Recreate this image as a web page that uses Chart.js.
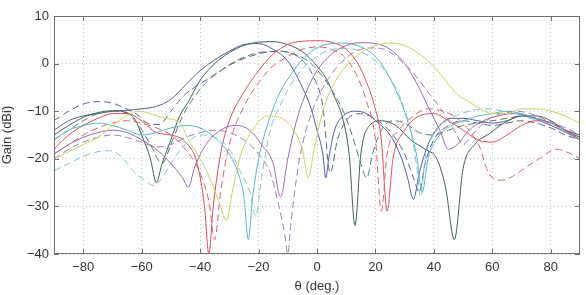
<!DOCTYPE html>
<html>
<head>
<meta charset="utf-8">
<script src="https://cdn.jsdelivr.net/npm/chart.js@4/dist/chart.umd.min.js"></script>
<style>
html,body{margin:0;padding:0;background:#fff;}
#wrap{width:586px;height:295px;}
</style>
</head>
<body>
<div id="wrap"><canvas id="c" width="586" height="295"></canvas></div>
<script>
// Tick labels
const xTicks = [-80,-60,-40,-20,0,20,40,60,80];
const yTicks = [-40,-30,-20,-10,0,10];

// Series: angle (deg) and gain (dBi)
const navyAng  = [-90,-85,-80,-75,-70,-65,-60,-55,-50,-45,-40,-35,-30,-25,-20,-15,-10,-5,-2,0,2,3,4,6,9,13,17,21,25,29,31,33,35,38,42,46,50,55,60,65,70,75,80,85,90];
const navyGain = [-14,-12,-11,-10.5,-10,-9.8,-9.5,-9,-7.5,-4.5,-1.5,0.8,2.6,4.0,4.2,3.0,0.5,-5,-9.5,-14,-19,-24,-20,-14,-11,-10,-10.5,-12.5,-15,-20,-24,-28.5,-23,-17,-13,-11.5,-11.5,-12,-12.5,-12,-11,-11.5,-12.5,-14,-15];

const greenAng  = [-90,-85,-80,-75,-70,-65,-62,-60,-57,-55,-53,-50,-47,-44,-40,-35,-30,-25,-20,-15,-10,-5,0,3,6,9,11,13,15,18,22,27,32,37,41,44,47,50,54,59,64,70,75,80,85,90];
const greenGain = [-15,-13,-11.3,-10.3,-9.9,-10.3,-12,-15,-20,-25,-21,-16,-11,-8,-3.5,0,2.3,3.8,4.5,4.6,4,2.5,-0.5,-3,-7,-12,-19,-34,-19,-13,-12,-13,-16,-18,-20,-26,-37,-22,-17,-14.7,-12.5,-11,-11,-12,-14,-15.5];

const redAng  = [-90,-85,-80,-75,-70,-65,-60,-55,-50,-45,-41,-38.5,-37,-35.5,-33,-30,-25,-20,-15,-10,-5,0,5,10,14,17,19.5,22,24,26,30,35,40,45,50,55,60,65,70,75,80,85,90];
const redGain = [-18,-15,-13,-11.5,-10.5,-10.5,-12,-14.5,-15,-16.5,-21,-30,-40,-30,-19,-12,-6,-1.5,2,4,4.7,4.8,4.5,3,0,-4,-8.5,-16,-31,-20,-14,-11,-10.5,-12,-14,-16,-16.5,-15,-13,-12,-12.5,-14,-16];

const redDAng  = [-90,-85,-80,-75,-70,-65,-60,-55,-50,-45,-40,-37,-35,-33,-30,-25,-20,-15,-10,-5,0,5,10,14,17,20,22,24,28,33,38,43,48,52,56,58,60,63,66,71,76,82,87,90];
const redDGain = [-19,-17,-15,-13.5,-12.5,-12,-12.5,-13.5,-15,-18,-23,-29,-37,-27,-17,-9,-4,-0.5,1.5,3,3.5,3,1,-3,-8,-16,-31,-19,-14,-11,-9.5,-10,-11.5,-14,-18,-22,-24,-24.5,-24,-22,-20,-18,-19,-20];

const cyanAng  = [-90,-85,-80,-75,-70,-65,-60,-55,-50,-45,-40,-35,-30,-27,-25,-23.5,-22,-20,-17,-13,-8,-4,0,5,10,15,20,24,28,31,34,36,38,42,46,50,55,60,65,70,75,80,85,90];
const cyanGain = [-16,-14,-13,-12.5,-13,-14,-15,-14.5,-13.5,-13,-13.5,-15.5,-19,-23,-28,-37,-28,-20,-13,-6.5,-1.5,1.5,3.3,4.2,4.3,3.5,1.5,-2,-7,-12,-19,-27,-20,-15,-13,-12,-11,-10.5,-10,-10.5,-11.5,-13,-14.5,-16];

const cyanDAng  = [-90,-85,-80,-75,-71,-67,-63,-59,-56,-53,-49,-45,-40,-35,-30,-26,-23,-21,-19,-16,-12,-8,-4,0,5,10,15,20,25,29,32,34,35.5,37,41,46,52,58,64,70,76,82,87,90];
const cyanDGain = [-22.5,-21,-19.5,-18.5,-18.3,-19.5,-22.5,-24.5,-25.6,-24,-20,-17,-15,-15.5,-18,-23,-27,-32,-24,-14,-8,-3.5,-0.5,1.5,3,3.2,2.5,0.5,-3,-8,-14,-21,-28,-20,-14,-11.5,-10,-9.5,-10,-11,-12,-13,-15,-16];

const purpleAng  = [-90,-85,-80,-75,-70,-65,-60,-55,-50,-46,-44,-42,-38,-33,-28,-23,-19,-15,-12.5,-10,-7,-3,0,5,10,15,20,25,30,34,38,42,45,48,52,57,62,67,72,78,84,90];
const purpleGain = [-19,-17,-15.5,-14.5,-14,-14.5,-16,-18,-21,-24,-26,-22,-17,-14,-13,-14,-17,-21,-28,-20,-12,-5,-1.5,2,3.8,4.4,4.2,3,0,-4,-9,-14,-18,-17,-14,-12,-11,-10.5,-11,-12.5,-14,-16];

const purpleDAng  = [-90,-85,-80,-75,-70,-65,-60,-55,-50,-45,-40,-35,-30,-25,-20,-16,-13,-11,-10,-9,-7,-5,-1,3,8,13,18,23,28,33,38,43,47,50,53,58,63,68,73,79,85,90];
const purpleDGain = [-20,-18,-16.5,-15.5,-15,-15.5,-16.5,-17.5,-17,-15.5,-14.5,-14,-14.5,-16,-19,-23,-30,-36,-40,-34,-24,-17,-9,-4,0,2.5,3.3,3,1,-2,-6,-10,-14,-17,-15,-12,-10.5,-10,-10.5,-12,-13.5,-15];

const yellowAng  = [-90,-85,-80,-75,-70,-66,-61,-57,-52,-47,-44,-40,-36,-33,-31,-29,-26,-21,-17,-12,-8,-5,-3,-1,2,6,10,15,20,25,30,35,39,44,48,52,56,60,65,70,75,80,85,90];
const yellowGain = [-20,-18.5,-17,-15.5,-13,-11.3,-10,-10.5,-11.5,-12.4,-16,-20,-25,-30,-33,-27,-19,-13,-11,-11.5,-14,-18,-24,-18,-10,-4,-0.5,2.3,3.8,4.3,3.8,2,0,-3.5,-6.5,-8,-9.5,-10.5,-10.5,-9.5,-9.5,-10,-11,-12.6];

const grayDAng  = [-90,-85,-80,-75,-70,-66,-62,-58,-54,-50,-46,-42,-38,-33,-28,-23,-18,-13,-8,-4,-1,2,4.5,7,10,14,18,22,26,30,33,35,37,40,45,50,55,60,65,70,75,80,85,90];
const grayDGain = [-12,-10,-8.5,-8,-8.3,-9.3,-10.5,-12.5,-12.8,-10,-7,-5,-3.5,-1.5,0.3,1.5,2.3,2.6,2,0,-3,-9,-23,-16,-12,-10.5,-11,-12.5,-15,-19,-24,-27,-21,-16,-13,-12,-12.5,-13,-12.5,-12,-12.5,-13.5,-15,-16];

const greenDAng  = [-90,-85,-80,-75,-70,-65,-61,-57,-53,-50,-46,-42,-38,-33,-28,-23,-18,-13,-8,-3,1,5,9,12,15,17,19,22,26,30,35,40,45,50,55,60,65,70,75,80,85,90];
const greenDGain = [-16,-14,-12,-10.5,-10,-10.5,-13,-17,-21,-17,-11,-7,-4,-1.5,0.5,1.8,2.5,2.6,2,0.5,-2,-5.5,-10,-15,-21,-24,-19,-14,-12,-12.5,-14.5,-15,-14,-13,-12.5,-12,-11.5,-11,-11.5,-12.5,-14,-15.5];

function pts(a, g){ return a.map((v,i)=>({x:v, y:g[i]})); }
function ds(a, g, color, dashed){
  return { data: pts(a,g), borderColor: color, borderWidth: 1, borderDash: dashed ? [7,4] : [],
           pointRadius: 0, fill: false, cubicInterpolationMode: 'monotone' };
}

const FONT = {family: "'Liberation Sans', Arial, sans-serif", size: 13};
const TXT = '#333333';
const minus = v => v < 0 ? '\u2212' + Math.abs(v) : String(v);

const frame = {
  id: 'frame',
  afterDatasetsDraw(chart){
    const {ctx, chartArea: a, scales: {x, y}} = chart;
    ctx.save();
    ctx.strokeStyle = '#707070'; ctx.lineWidth = 1;
    ctx.strokeRect(Math.round(a.left)+0.5, Math.round(a.top)+0.5, Math.round(a.right-a.left)-1, Math.round(a.bottom-a.top)-1);
    ctx.beginPath();
    const L = 5;
    for (const v of xTicks){
      const px = Math.round(x.getPixelForValue(v)) + 0.5;
      ctx.moveTo(px, a.bottom); ctx.lineTo(px, a.bottom - L);
      ctx.moveTo(px, a.top); ctx.lineTo(px, a.top + L);
    }
    for (const v of yTicks){
      const py = Math.round(y.getPixelForValue(v)) + 0.5;
      ctx.moveTo(a.left, py); ctx.lineTo(a.left + L, py);
      ctx.moveTo(a.right, py); ctx.lineTo(a.right - L, py);
    }
    ctx.stroke();
    ctx.restore();
  }
};

new Chart(document.getElementById('c'), {
  type: 'line',
  data: { datasets: [
    ds(yellowAng, yellowGain, '#c6d45e', false),
    ds(purpleDAng, purpleDGain, '#a577b8', true),
    ds(purpleAng, purpleGain, '#9a6aae', false),
    ds(cyanDAng, cyanDGain, '#7cc6cf', true),
    ds(cyanAng, cyanGain, '#58b8c8', false),
    ds(redDAng, redDGain, '#e2606a', true),
    ds(redAng, redGain, '#e04c58', false),
    ds(greenDAng, greenDGain, '#5b7a70', true),
    ds(grayDAng, grayDGain, '#5c6590', true),
    ds(greenAng, greenGain, '#3f6157', false),
    ds(navyAng, navyGain, '#525ca6', false)
  ]},
  options: {
    responsive: false,
    devicePixelRatio: 1,
    animation: false,
    layout: { padding: { top: 16, right: 6, left: 0, bottom: 0 } },
    plugins: { legend: { display: false }, tooltip: { enabled: false } },
    scales: {
      x: {
        type: 'linear', min: -90, max: 90,
        afterBuildTicks: s => { s.ticks = xTicks.map(v => ({value: v})); },
        afterFit: s => { s.height = 41; },
        grid: { color: '#c8c8c8', drawTicks: false, lineWidth: 1 },
        border: { display: false, dash: [1,3] },
        ticks: { font: FONT, color: TXT, padding: 6, maxRotation: 0, callback: minus },
        title: { display: true, text: '\u03b8 (deg.)', font: FONT, color: TXT, padding: { top: 0, bottom: 1 } }
      },
      y: {
        type: 'linear', min: -40, max: 10,
        afterBuildTicks: s => { s.ticks = yTicks.map(v => ({value: v})); },
        afterFit: s => { s.width = 54; },
        grid: { color: '#c8c8c8', drawTicks: false, lineWidth: 1 },
        border: { display: false, dash: [1,3] },
        ticks: { font: FONT, color: TXT, padding: 5, callback: minus },
        title: { display: true, text: 'Gain (dBi)', font: FONT, color: TXT, padding: { top: 0, bottom: 0 } }
      }
    }
  },
  plugins: [frame]
});
</script>
</body>
</html>
